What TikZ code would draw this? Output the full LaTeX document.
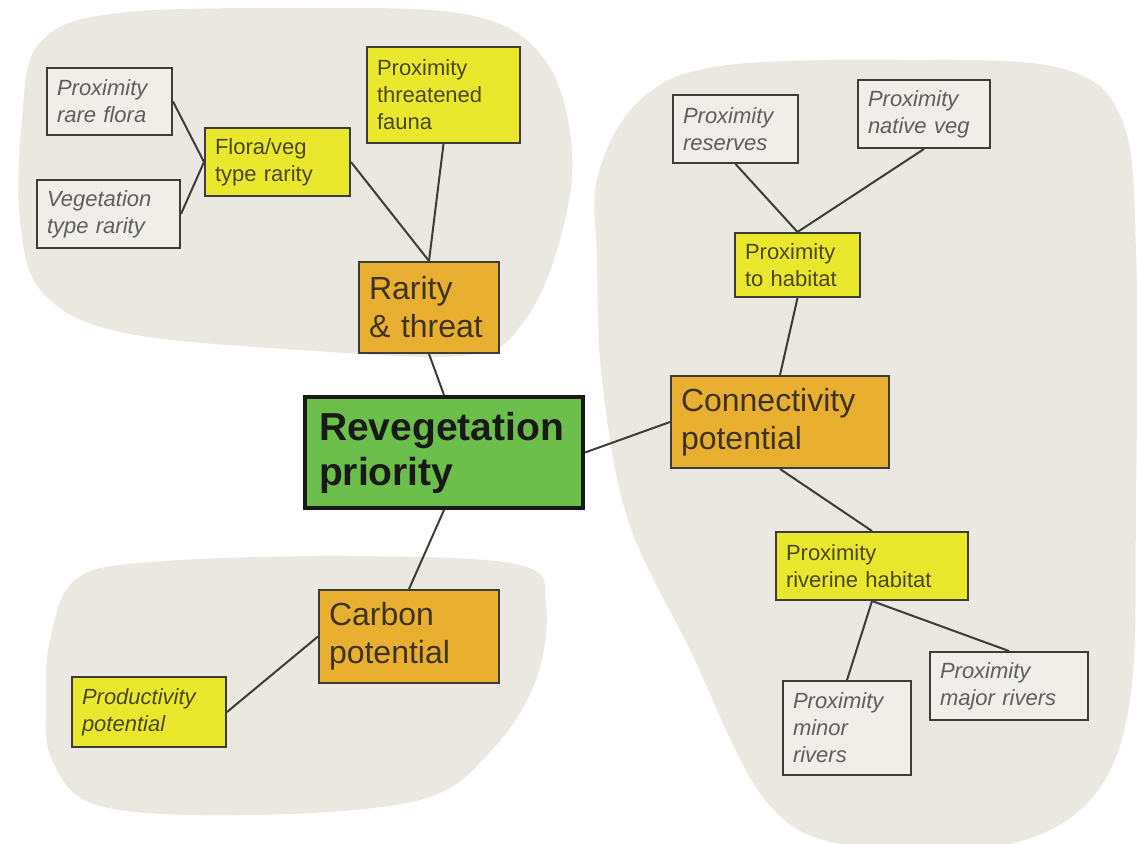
\documentclass[tikz,border=0pt]{standalone}
\usepackage{fontspec}
\setmainfont{Liberation Sans}
\usepackage{tikz}

\definecolor{blobfill}{HTML}{EAE8E1}
\definecolor{greyfill}{HTML}{EFEEE9}
\definecolor{greytext}{HTML}{5E5E5E}
\definecolor{yellowfill}{HTML}{E9E82C}
\definecolor{yellowtext}{HTML}{4A4820}
\definecolor{orangefill}{HTML}{E8AF30}
\definecolor{orangetext}{HTML}{3E3420}
\definecolor{greenfill}{HTML}{6DBF4B}
\definecolor{boxline}{HTML}{3C3C38}

\tikzset{
 box/.style={draw=boxline, line width=2pt, inner xsep=10pt, inner ysep=0pt, align=left},
 greybox/.style={box, fill=greyfill, text=greytext, font=\fontsize{22}{27}\selectfont\itshape},
 yellowbox/.style={box, fill=yellowfill, text=yellowtext, font=\fontsize{22}{27}\selectfont},
 orangebox/.style={box, fill=orangefill, text=orangetext, font=\fontsize{32}{38}\selectfont},
 priobox/.style={box, line width=4pt, draw=black!90, fill=greenfill, inner xsep=14pt, text=black!90, font=\fontsize{39}{45}\selectfont\bfseries},
 link/.style={draw=boxline, line width=2pt}
}

\begin{document}
\begin{tikzpicture}[x=1pt, y=-1pt]
\useasboundingbox (0,0) rectangle (1137,843);

% background areas
\fill[blobfill] plot[smooth cycle, tension=0.6] coordinates {(22,120) (38,45) (110,14) (300,8) (470,15) (545,60) (572,150) (560,240) (525,320) (470,355) (300,350) (120,332) (42,292) (20,220)};
\fill[blobfill] plot[smooth cycle, tension=0.6] coordinates {(598,175) (640,100) (720,66) (900,60) (1060,68) (1122,120) (1136,250) (1136,500) (1130,700) (1090,800) (1000,846) (850,846) (765,800) (690,650) (628,520) (602,380) (597,260)};
\fill[blobfill] plot[smooth cycle, tension=0.6] coordinates {(50,640) (75,580) (150,562) (350,556) (520,565) (546,605) (536,680) (492,750) (420,800) (250,815) (100,806) (52,760) (46,700)};

% rarity branch
\node[greybox, text width=105pt, minimum height=67pt] (rareflora) at (109.5,101.5) {Proximity\\rare flora};
\node[greybox, text width=123pt, minimum height=68pt] (vegrarity) at (108.5,214) {Vegetation\\type rarity};
\node[yellowbox, text width=125pt, minimum height=68pt] (floraveg) at (277.5,162) {Flora/veg\\type rarity};
\node[yellowbox, text width=133pt, minimum height=96pt] (fauna) at (443.5,95) {Proximity\\threatened\\fauna};
\node[orangebox, text width=120pt, minimum height=91pt] (rarity) at (429,307.5) {Rarity\\\& threat};

% centre
\node[priobox, text width=250pt, minimum height=111pt] (reveg) at (444,452.5) {Revegetation\\priority};

% carbon branch
\node[orangebox, text width=160pt, minimum height=93pt] (carbon) at (409,636.5) {Carbon\\potential};
\node[yellowbox, font=\fontsize{22}{27}\selectfont\itshape, text width=134pt, minimum height=70pt] (productivity) at (149,712) {Productivity\\potential};

% connectivity branch
\node[orangebox, text width=198pt, minimum height=92pt] (connect) at (780,422) {Connectivity\\potential};
\node[yellowbox, text width=105pt, minimum height=64pt] (habitat) at (797.5,265) {Proximity\\to habitat};
\node[greybox, text width=105pt, minimum height=68pt] (reserves) at (735.5,129) {Proximity\\reserves};
\node[greybox, text width=112pt, minimum height=68pt] (nativeveg) at (924,114) {Proximity\\native veg};
\node[yellowbox, text width=172pt, minimum height=68pt] (riverine) at (872,566) {Proximity\\riverine habitat};
\node[greybox, text width=108pt, minimum height=94pt] (minor) at (847,728) {Proximity\\minor\\rivers};
\node[greybox, text width=138pt, minimum height=68pt] (major) at (1009,686) {Proximity\\major rivers};

\foreach \a/\b in {rareflora.east/floraveg.west, vegrarity.east/floraveg.west,
 floraveg.east/rarity.north, fauna.south/rarity.north, rarity.south/reveg.north,
 reveg.south/carbon.north, carbon.west/productivity.east, reveg.east/connect.west,
 connect.north/habitat.south, habitat.north/reserves.south, habitat.north/nativeveg.south,
 connect.south/riverine.north, riverine.south/minor.north, riverine.south/major.north} {
 \draw[link] (\a) -- (\b);
}

\end{tikzpicture}
\end{document}
